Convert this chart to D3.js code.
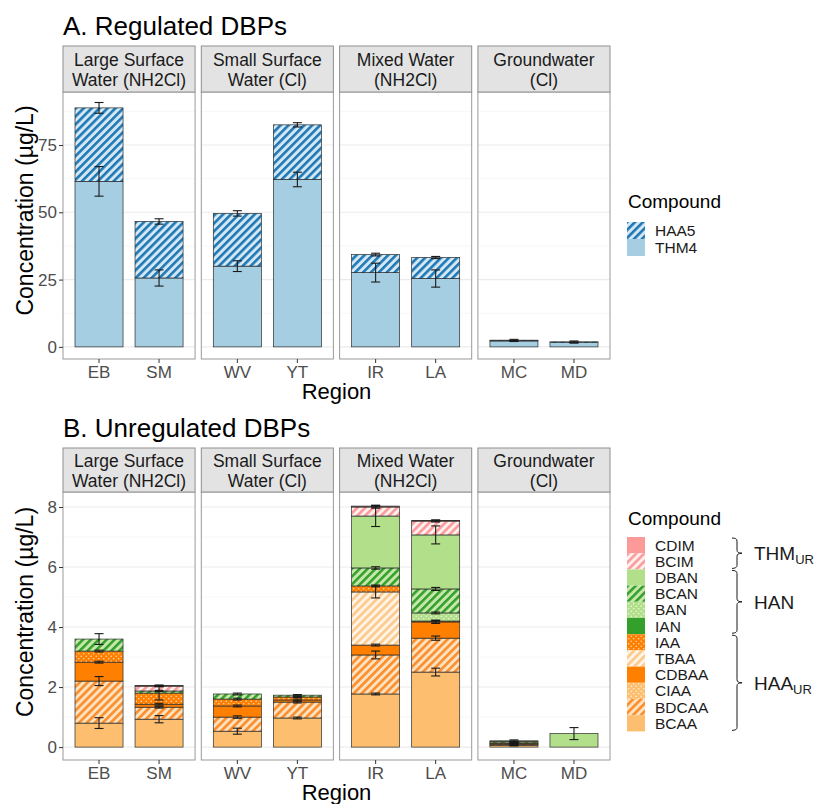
<!DOCTYPE html>
<html>
<head>
<meta charset="utf-8">
<script src="https://cdn.jsdelivr.net/npm/d3@7"></script>
<style>
  body { margin: 0; background: #fff; }
  text { font-family: "Liberation Sans", Arial, Helvetica, sans-serif; }
</style>
</head>
<body>
<svg id="chart" width="815" height="804"></svg>
<script>
// facets and regions
const groupNames = [["Large Surface", "Water (NH2Cl)"], ["Small Surface", "Water (Cl)"], ["Mixed Water", "(NH2Cl)"], ["Groundwater", "(Cl)"]];
const regions = ["EB", "SM", "WV", "YT", "IR", "LA", "MC", "MD"];
const regionGroup = [0, 0, 1, 1, 2, 2, 3, 3];

// A. regulated DBPs (µg/L), legend order
const regKeys = ["HAA5", "THM4"];
const thm4 = [61.5, 25.6, 30.0, 62.2, 27.6, 25.4, 2.2, 1.6];
const thm4Err = [5.5, 3.0, 2.0, 2.7, 3.5, 3.2, 0.2, 0.2];
const haa5 = [27.3, 21.0, 19.6, 20.3, 6.7, 7.8, 0.3, 0.3];
const haa5Err = [2.0, 1.0, 1.0, 0.8, 0.5, 0.4, 0.3, 0.3];
const regTicks = [0, 25, 50, 75];

// B. unregulated DBPs (µg/L), legend order
const unregKeys = ["CDIM", "BCIM", "DBAN", "BCAN", "BAN", "IAN", "IAA", "TBAA", "CDBAA", "CIAA", "BDCAA", "BCAA"];
const cdim  = [0, 0.02, 0, 0, 0.03, 0.02, 0, 0];
const bcim  = [0, 0.16, 0, 0, 0.30, 0.46, 0, 0];
const dban  = [0, 0, 0, 0, 1.73, 1.80, 0.03, 0.45];
const bcan  = [0.40, 0.07, 0.17, 0.06, 0.60, 0.80, 0.04, 0];
const ban   = [0, 0, 0, 0, 0, 0.27, 0, 0];
const ian   = [0, 0, 0, 0, 0, 0, 0, 0];
const iaa   = [0.37, 0.37, 0.23, 0.10, 0.20, 0.03, 0.02, 0];
const tbaa  = [0, 0, 0, 0, 1.77, 0, 0, 0];
const cdbaa = [0.63, 0.10, 0.37, 0.07, 0.33, 0.54, 0.03, 0];
const ciaa  = [0, 0, 0, 0, 0, 0, 0, 0];
const bdcaa = [1.40, 0.40, 0.47, 0.53, 1.30, 1.13, 0.04, 0];
const bcaa  = [0.80, 0.93, 0.53, 0.97, 1.77, 2.50, 0.05, 0];

const cdimErr  = [0, 0.02, 0, 0, 0.03, 0.02, 0, 0];
const bcimErr  = [0, 0.02, 0, 0, 0.04, 0.03, 0, 0];
const dbanErr  = [0, 0, 0, 0, 0.35, 0.30, 0.03, 0.20];
const bcanErr  = [0.18, 0.02, 0.03, 0.02, 0.04, 0.05, 0.02, 0];
const banErr   = [0, 0, 0, 0, 0, 0.03, 0, 0];
const ianErr   = [0, 0, 0, 0, 0, 0, 0, 0];
const iaaErr   = [0.03, 0.23, 0.03, 0.02, 0.03, 0.03, 0.01, 0];
const tbaaErr  = [0, 0, 0, 0, 0.20, 0, 0, 0];
const cdbaaErr = [0.03, 0.03, 0.03, 0.03, 0.03, 0.05, 0.01, 0];
const ciaaErr  = [0, 0, 0, 0, 0, 0, 0, 0];
const bdcaaErr = [0.15, 0.03, 0.04, 0.03, 0.13, 0.07, 0.01, 0];
const bcaaErr  = [0.18, 0.12, 0.10, 0.03, 0.03, 0.13, 0.01, 0];
const unregTicks = [0, 2, 4, 6, 8];

// legend brackets for panel B
const braces = [
  { label: "THM", sub: "UR", from: "CDIM", to: "BCIM" },
  { label: "HAN", sub: "", from: "DBAN", to: "IAN" },
  { label: "HAA", sub: "UR", from: "IAA", to: "BCAA" }
];

// fill styles
const fills = {
  THM4:  { type: "solid", c: "#a6cee3" },
  HAA5:  { type: "stripe", bg: "#d3e8f4", fg: "#1f78b4" },
  CDIM:  { type: "solid", c: "#fb9a99" },
  BCIM:  { type: "stripe", bg: "#fff0f0", fg: "#fb9a99" },
  DBAN:  { type: "solid", c: "#b2df8a" },
  BCAN:  { type: "stripe", bg: "#c8e8ab", fg: "#33a02c" },
  BAN:   { type: "dots", bg: "#b2df8a", fg: "#eef8e4" },
  IAN:   { type: "solid", c: "#33a02c" },
  IAA:   { type: "dots", bg: "#ff7f00", fg: "#ffd9b0" },
  TBAA:  { type: "stripe", bg: "#fff4e6", fg: "#fdc98a" },
  CDBAA: { type: "solid", c: "#ff7f00" },
  CIAA:  { type: "dots", bg: "#fdbf6f", fg: "#fff0dc" },
  BDCAA: { type: "stripe", bg: "#fde2c0", fg: "#fb8c2a" },
  BCAA:  { type: "solid", c: "#fdbf6f" }
};

const svg = d3.select("#chart");
const defs = svg.append("defs");

function addPattern(key, f) {
  const p = defs.append("pattern")
    .attr("id", "pat-" + key)
    .attr("patternUnits", "userSpaceOnUse");
  if (f.type === "stripe") {
    p.attr("width", 5.6).attr("height", 5.6).attr("patternTransform", "rotate(45)");
    p.append("rect").attr("width", 5.6).attr("height", 5.6).attr("fill", f.bg);
    p.append("rect").attr("width", 2.6).attr("height", 5.6).attr("fill", f.fg);
  } else {
    p.attr("width", 5).attr("height", 5);
    p.append("rect").attr("width", 5).attr("height", 5).attr("fill", f.bg);
    p.append("circle").attr("cx", 1.2).attr("cy", 1.2).attr("r", 0.8).attr("fill", f.fg);
    p.append("circle").attr("cx", 3.7).attr("cy", 3.7).attr("r", 0.8).attr("fill", f.fg);
  }
}
Object.entries(fills).forEach(([k, f]) => { if (f.type !== "solid") addPattern(k, f); });
const fillOf = k => fills[k].type === "solid" ? fills[k].c : `url(#pat-${k})`;

const groupX = d3.scaleBand().domain(d3.range(4)).range([63, 610]).paddingInner(0.045);

function drawFacets(cfg) {
  const y = d3.scaleLinear().domain(cfg.yDomain).range([cfg.plotBottom, cfg.plotTop]);
  const stackKeys = cfg.keys.slice().reverse();
  const rows = regions.map((r, i) => {
    const row = { region: r };
    stackKeys.forEach(k => { row[k] = cfg.values[k][i]; });
    return row;
  });
  const series = d3.stack().keys(stackKeys)(rows);

  svg.append("text")
    .attr("x", 63).attr("y", cfg.titleY)
    .attr("font-size", 26).attr("fill", "#000")
    .text(cfg.title);

  const step = (cfg.ticks[1] - cfg.ticks[0]) / 2;
  const minor = cfg.ticks.map(t => t + step).filter(t => t < cfg.yDomain[1]);

  groupNames.forEach((g, gi) => {
    const x0 = groupX(gi), w = groupX.bandwidth();
    const regs = regions.filter((r, i) => regionGroup[i] === gi);
    const xIn = d3.scaleBand().domain(regs).range([x0, x0 + w]).paddingInner(0.2).paddingOuter(0.2);
    const gp = svg.append("g");

    // grid
    gp.selectAll(".minor").data(minor).enter().append("line")
      .attr("x1", x0).attr("x2", x0 + w)
      .attr("y1", d => y(d)).attr("y2", d => y(d))
      .attr("stroke", "#f2f2f2").attr("stroke-width", 0.6);
    gp.selectAll(".major").data(cfg.ticks).enter().append("line")
      .attr("x1", x0).attr("x2", x0 + w)
      .attr("y1", d => y(d)).attr("y2", d => y(d))
      .attr("stroke", "#ebebeb").attr("stroke-width", 1.1);

    // bars
    series.forEach(s => {
      s.forEach((d, i) => {
        if (regionGroup[i] !== gi || d[1] - d[0] <= 0) return;
        gp.append("rect")
          .attr("x", xIn(d.data.region))
          .attr("width", xIn.bandwidth())
          .attr("y", y(d[1]))
          .attr("height", y(d[0]) - y(d[1]))
          .attr("fill", fillOf(s.key))
          .attr("stroke", "#2b2b2b").attr("stroke-width", 0.7);
      });
    });

    // error bars
    series.forEach(s => {
      s.forEach((d, i) => {
        const e = cfg.errors[s.key][i];
        if (regionGroup[i] !== gi || d[1] - d[0] <= 0 || e <= 0) return;
        const cx = xIn(d.data.region) + xIn.bandwidth() / 2;
        const lo = y(d[1] - e), hi = y(d[1] + e);
        const eb = gp.append("g").attr("stroke", "#1a1a1a").attr("stroke-width", 1.1);
        eb.append("line").attr("x1", cx).attr("x2", cx).attr("y1", lo).attr("y2", hi);
        eb.append("line").attr("x1", cx - 4.5).attr("x2", cx + 4.5).attr("y1", lo).attr("y2", lo);
        eb.append("line").attr("x1", cx - 4.5).attr("x2", cx + 4.5).attr("y1", hi).attr("y2", hi);
      });
    });

    // panel border
    gp.append("rect")
      .attr("x", x0).attr("y", cfg.plotTop)
      .attr("width", w).attr("height", cfg.plotBottom - cfg.plotTop)
      .attr("fill", "none").attr("stroke", "#9a9a9a").attr("stroke-width", 1);

    // strip
    const sh = cfg.plotTop - cfg.stripTop;
    gp.append("rect")
      .attr("x", x0).attr("y", cfg.stripTop)
      .attr("width", w).attr("height", sh)
      .attr("fill", "#e3e3e3").attr("stroke", "#8f8f8f").attr("stroke-width", 1);
    const cy = cfg.stripTop + sh / 2;
    g.forEach((line, li) => {
      gp.append("text")
        .attr("x", x0 + w / 2).attr("y", cy + (li === 0 ? -3 : 16.5))
        .attr("text-anchor", "middle").attr("font-size", 17.5).attr("fill", "#1a1a1a")
        .text(line);
    });

    // x axis
    const xa = gp.append("g").attr("transform", `translate(0,${cfg.plotBottom})`)
      .call(d3.axisBottom(xIn).tickSize(4).tickPadding(3));
    xa.select(".domain").remove();
    xa.selectAll(".tick line").attr("stroke", "#333");
    xa.selectAll(".tick text").attr("font-size", 17).attr("fill", "#4d4d4d")
      .attr("font-family", "Liberation Sans, Arial, sans-serif");
  });

  // y axis
  const ya = svg.append("g").attr("transform", `translate(${groupX(0)},0)`)
    .call(d3.axisLeft(y).tickValues(cfg.ticks).tickSize(4).tickPadding(2));
  ya.select(".domain").remove();
  ya.selectAll(".tick line").attr("stroke", "#333");
  ya.selectAll(".tick text").attr("font-size", 17).attr("fill", "#4d4d4d")
    .attr("font-family", "Liberation Sans, Arial, sans-serif");

  // axis titles
  svg.append("text")
    .attr("x", (groupX(0) + groupX(3) + groupX.bandwidth()) / 2)
    .attr("y", cfg.plotBottom + 40)
    .attr("text-anchor", "middle").attr("font-size", 22)
    .text("Region");
  svg.append("text")
    .attr("transform", `translate(33,${(cfg.stripTop + cfg.plotBottom) / 2 + 8}) rotate(-90)`)
    .attr("text-anchor", "middle").attr("font-size", 23)
    .text("Concentration (µg/L)");

  // legend
  const lg = svg.append("g");
  lg.append("text").attr("x", 628).attr("y", cfg.legendTitleY)
    .attr("font-size", 19).text("Compound");
  cfg.keys.forEach((k, i) => {
    const ky = cfg.keyTop + i * cfg.keyH;
    lg.append("rect").attr("x", 627).attr("y", ky)
      .attr("width", 18).attr("height", cfg.keyH)
      .attr("fill", fillOf(k));
    lg.append("text").attr("x", 655).attr("y", ky + cfg.keyH / 2 + 5.5)
      .attr("font-size", 15.5).attr("fill", "#1a1a1a").text(k);
  });

  if (cfg.braces) {
    cfg.braces.forEach(b => {
      const y0 = cfg.keyTop + cfg.keys.indexOf(b.from) * cfg.keyH + 1;
      const y1 = cfg.keyTop + (cfg.keys.indexOf(b.to) + 1) * cfg.keyH - 1;
      const ym = (y0 + y1) / 2, bx = 737;
      lg.append("path")
        .attr("d", `M${bx - 5},${y0} Q${bx},${y0} ${bx},${y0 + 3} L${bx},${ym - 3} Q${bx},${ym} ${bx + 5},${ym} Q${bx},${ym} ${bx},${ym + 3} L${bx},${y1 - 3} Q${bx},${y1} ${bx - 5},${y1}`)
        .attr("fill", "none").attr("stroke", "#1a1a1a").attr("stroke-width", 1);
      const t = lg.append("text").attr("x", 754).attr("y", ym + 7)
        .attr("font-size", 19).attr("fill", "#1a1a1a").text(b.label);
      if (b.sub) {
        t.append("tspan").attr("font-size", 13).attr("dy", 4).text(b.sub);
      }
    });
  }
}

drawFacets({
  title: "A. Regulated DBPs", titleY: 35,
  stripTop: 46, plotTop: 92, plotBottom: 359,
  yDomain: [-4.5, 94.7], ticks: regTicks,
  keys: regKeys,
  values: { THM4: thm4, HAA5: haa5 },
  errors: { THM4: thm4Err, HAA5: haa5Err },
  legendTitleY: 208, keyTop: 222, keyH: 17
});

drawFacets({
  title: "B. Unregulated DBPs", titleY: 437,
  stripTop: 448, plotTop: 492, plotBottom: 760,
  yDomain: [-0.43, 8.5], ticks: unregTicks,
  keys: unregKeys,
  values: { CDIM: cdim, BCIM: bcim, DBAN: dban, BCAN: bcan, BAN: ban, IAN: ian, IAA: iaa, TBAA: tbaa, CDBAA: cdbaa, CIAA: ciaa, BDCAA: bdcaa, BCAA: bcaa },
  errors: { CDIM: cdimErr, BCIM: bcimErr, DBAN: dbanErr, BCAN: bcanErr, BAN: banErr, IAN: ianErr, IAA: iaaErr, TBAA: tbaaErr, CDBAA: cdbaaErr, CIAA: ciaaErr, BDCAA: bdcaaErr, BCAA: bcaaErr },
  legendTitleY: 525, keyTop: 537, keyH: 16.2,
  braces: braces
});
</script>
</body>
</html>
